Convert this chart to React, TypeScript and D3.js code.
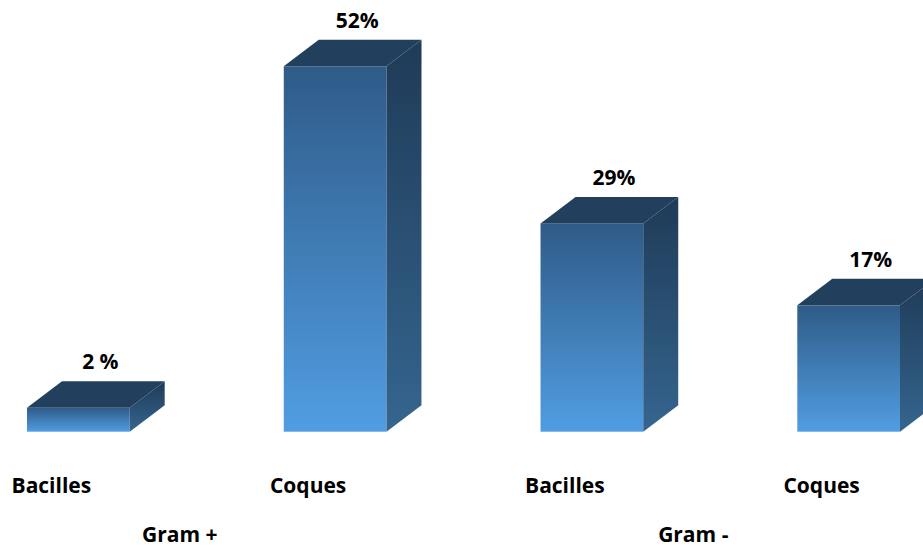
import React from "react";
import * as d3 from "d3";

// Share of isolated bacteria by shape and Gram stain
const categories = ["Bacilles", "Coques", "Bacilles", "Coques"];
const values = [2, 52, 29, 17];
const valueLabels = ["2 %", "52%", "29%", "17%"];
const groups = ["Gram +", "Gram -"];
const groupOf = [0, 0, 1, 1];

const W = 923;
const H = 549;
const BASE = 431.7;
const DX = 35; // depth offset of the 3D box (x)
const DY = -26.5; // depth offset of the 3D box (y)

const FONT = "'Open Sans', 'Liberation Sans', Arial, sans-serif";

export default function App() {
  const ids = values.map((_, i) => String(i));
  const x = d3.scaleBand<string>().domain(ids).range([27, 900]).paddingInner(0.6).paddingOuter(0);
  const y = d3.scaleLinear().domain([-1.5, 52]).range([BASE, BASE - 6.83 * 53.5]);
  const bw = x.bandwidth();

  return (
    <svg
      width={W}
      height={H}
      viewBox={`0 0 ${W} ${H}`}
      style={{ position: "absolute", left: 0, top: 0, display: "block", background: "#fff", overflow: "hidden" }}
    >
      <defs>
        <linearGradient id="front" x1="0" y1="0" x2="0" y2="1">
          <stop offset="0%" stopColor="#2f5b88" />
          <stop offset="100%" stopColor="#519de2" />
        </linearGradient>
        <linearGradient id="side" x1="0" y1="0" x2="0" y2="1">
          <stop offset="0%" stopColor="#1f3b57" />
          <stop offset="100%" stopColor="#35658f" />
        </linearGradient>
      </defs>

      {values.map((v, i) => {
        const x0 = x(ids[i]) as number;
        const x1 = x0 + bw;
        const top = y(v);
        const sidePath = d3.path();
        sidePath.moveTo(x1, top);
        sidePath.lineTo(x1 + DX, top + DY);
        sidePath.lineTo(x1 + DX, BASE + DY);
        sidePath.lineTo(x1, BASE);
        sidePath.closePath();
        const topPath = d3.path();
        topPath.moveTo(x0, top);
        topPath.lineTo(x0 + DX, top + DY);
        topPath.lineTo(x1 + DX, top + DY);
        topPath.lineTo(x1, top);
        topPath.closePath();
        return (
          <g key={i}>
            <rect x={x0} y={top} width={bw} height={BASE - top} fill="url(#front)" />
            <path d={sidePath.toString()} fill="url(#side)" />
            <path d={topPath.toString()} fill="#22405e" />
            <text
              x={x0 + bw / 2 + 22}
              y={top + DY - 12}
              textAnchor="middle"
              fontFamily={FONT}
              fontWeight={700}
              fontSize={21}
              fill="#000"
            >
              {valueLabels[i]}
            </text>
            <text
              x={x0 + bw / 2 - 27}
              y={493}
              textAnchor="middle"
              fontFamily={FONT}
              fontWeight={700}
              fontSize={21}
              fill="#000"
            >
              {categories[i]}
            </text>
          </g>
        );
      })}

      {groups.map((g, gi) => {
        const members = ids.filter((_, i) => groupOf[i] === gi);
        const centers = members.map((id) => (x(id) as number) + bw / 2 - 27);
        const cx = d3.mean(centers) as number;
        return (
          <text
            key={g}
            x={cx}
            y={542}
            textAnchor="middle"
            fontFamily={FONT}
            fontWeight={700}
            fontSize={21}
            fill="#000"
          >
            {g}
          </text>
        );
      })}
    </svg>
  );
}
